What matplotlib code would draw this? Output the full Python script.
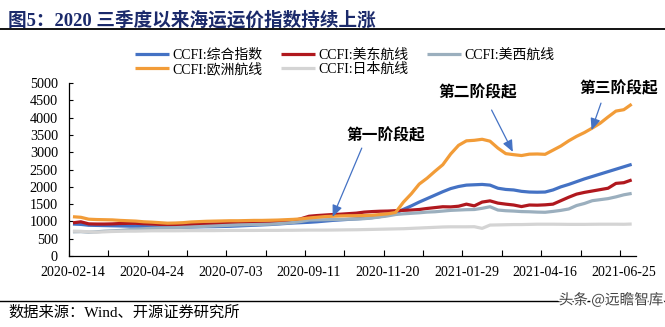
import matplotlib
matplotlib.use('Agg')
import matplotlib.pyplot as plt
import matplotlib.patheffects as pe
import pandas as pd

plt.rcParams['font.family'] = ['Liberation Serif', 'Noto Sans CJK SC']

# weekly CCFI, Spring Festival week (2021-02-12) not published
dates = pd.date_range('2020-02-14', '2021-07-02', freq='7D')
dates = dates[dates != pd.Timestamp('2021-02-12')]

composite = [925, 915, 890, 885, 880, 875, 870, 865, 860, 850,
             845, 840, 830, 830, 835, 840, 845, 848, 850, 855,
             860, 870, 880, 890, 900, 910, 925, 940, 955, 965,
             975, 990, 1010, 1030, 1045, 1060, 1075, 1090, 1110, 1140,
             1180, 1240, 1350, 1450, 1560, 1660, 1760, 1860, 1950, 2010,
             2050, 2060, 2070, 2050, 1960, 1925, 1910, 1870, 1850, 1845,
             1850, 1910, 2000, 2070, 2150, 2230, 2300, 2370, 2440, 2510,
             2580, 2650]
us_east = [960, 990, 930, 925, 925, 930, 940, 945, 945, 935,
           925, 915, 910, 905, 905, 915, 920, 925, 930, 935,
           940, 945, 950, 955, 955, 960, 970, 990, 1020, 1080,
           1150, 1170, 1185, 1200, 1210, 1225, 1240, 1270, 1285, 1295,
           1300, 1310, 1320, 1330, 1345, 1375, 1400, 1425, 1420, 1440,
           1500, 1450, 1560, 1595, 1530, 1500, 1475, 1430, 1475, 1470,
           1480, 1500, 1600, 1700, 1790, 1840, 1880, 1920, 1960, 2100,
           2120, 2200]
us_west = [700, 705, 690, 700, 720, 730, 740, 760, 780, 790,
           800, 810, 815, 820, 830, 840, 850, 860, 870, 880,
           890, 900, 905, 910, 915, 920, 935, 950, 970, 1000,
           1040, 1045, 1050, 1055, 1060, 1065, 1070, 1080, 1100, 1130,
           1160, 1200, 1220, 1235, 1250, 1270, 1280, 1300, 1320, 1330,
           1340, 1345, 1380, 1425, 1330, 1310, 1300, 1285, 1280, 1270,
           1265, 1290, 1320, 1360, 1460, 1520, 1600, 1630, 1660, 1710,
           1770, 1810]
europe = [1136, 1120, 1065, 1055, 1050, 1045, 1030, 1020, 1010, 990,
          980, 965, 950, 955, 965, 985, 995, 1005, 1010, 1015,
          1020, 1020, 1025, 1030, 1030, 1035, 1040, 1050, 1060, 1075,
          1100, 1120, 1140, 1150, 1160, 1165, 1165, 1170, 1180, 1200,
          1220, 1260, 1560, 1800, 2080, 2250, 2450, 2640, 2950, 3200,
          3330, 3345, 3375, 3320, 3120, 2960, 2930, 2905, 2945, 2950,
          2940, 3060, 3180, 3330, 3460, 3570, 3700, 3840, 4020, 4190,
          4230, 4390]
japan = [720, 715, 700, 690, 700, 710, 715, 720, 720, 725,
         730, 730, 730, 730, 732, 735, 735, 735, 735, 738,
         740, 740, 740, 740, 742, 742, 742, 745, 745, 748,
         750, 750, 750, 752, 755, 758, 760, 765, 770, 775,
         780, 785, 790, 800, 810, 820, 830, 840, 845, 845,
         845, 848, 800, 895, 900, 905, 910, 910, 915, 920,
         920, 920, 918, 915, 915, 915, 918, 920, 920, 920,
         918, 925]

series = [('CCFI:综合指数', composite, '#4472C4'),
          ('CCFI:美东航线', us_east, '#B0181E'),
          ('CCFI:美西航线', us_west, '#9BAFBE'),
          ('CCFI:欧洲航线', europe, '#F29C38'),
          ('CCFI:日本航线', japan, '#D4D4D4')]

# stage labels: text (x index, y), arrow tail, arrow head
stage_text = ['第一阶段起', '第二阶段起', '第三阶段起']
stage_pos = [(39.8, 3500), (51.4, 4720), (69.4, 4860)]
arrow_tail = [(36.7, 3120), (53.2, 4220), (67.1, 4420)]
arrow_head = [(33.0, 1130), (55.9, 3010), (65.9, 3640)]

fig = plt.figure(figsize=(6.65, 3.27), dpi=100)
ax = fig.add_axes([0.1038, 0.217, 0.8520, 0.529])

x = list(range(len(dates)))
lines = {}
for name, vals, col in series:
    lines[name], = ax.plot(x, vals, color=col, lw=2.3, solid_capstyle='butt')

ax.set_xlim(-0.5, len(dates) - 0.5)
ax.set_ylim(0, 5000)
ax.set_yticks(range(0, 5001, 500))
ax.set_xticks(x[::10])
ax.set_xticklabels([d.strftime('%Y-%m-%d') for d in dates[::10]])
ax.set_xticks([i - 0.5 for i in range(0, len(dates), 5)], minor=True)
ax.tick_params(axis='x', which='major', length=0, pad=7, labelsize=10)
ax.tick_params(axis='x', which='minor', direction='in', length=4, width=0.8)
ax.tick_params(axis='y', direction='in', length=3, width=0.8, pad=8, labelsize=10.3)
for s in ['top', 'right']:
    ax.spines[s].set_visible(False)
for s in ['left', 'bottom']:
    ax.spines[s].set_linewidth(0.9)

for t, p, a, b in zip(stage_text, stage_pos, arrow_tail, arrow_head):
    ax.text(p[0], p[1], t, ha='center', va='center', fontsize=11.3,
            fontweight='bold', family=['Noto Sans CJK SC'], clip_on=False)
    ax.annotate('', xy=b, xytext=a,
                arrowprops=dict(arrowstyle='-|>,head_length=0.7,head_width=0.3',
                                color='#4472C4', lw=0.9, shrinkA=0, shrinkB=0))

order = ['CCFI:综合指数', 'CCFI:欧洲航线', 'CCFI:美东航线', 'CCFI:日本航线', 'CCFI:美西航线']
fig.legend([lines[n] for n in order], order, ncol=3, frameon=False,
           loc='upper left', bbox_to_anchor=(0.193, 0.872), fontsize=10,
           handlelength=2.45, handletextpad=0.25, columnspacing=1.3,
           labelspacing=0.05, borderpad=0)

fig.text(0.012, 0.937, '图5：2020 三季度以来海运运价指数持续上涨', fontsize=13.4,
         fontweight='bold', color='#1B2A6B', va='center')
fig.add_artist(plt.Line2D([0, 1], [0.911, 0.911], color='black', lw=1.3))
fig.add_artist(plt.Line2D([0, 1], [0.080, 0.080], color='black', lw=1.0))
fig.text(0.012, 0.043, '数据来源：Wind、开源证券研究所', fontsize=11, va='center')
fig.text(0.998, 0.083, '头条 @远瞻智库', fontsize=10.5, ha='right', va='center',
         color='#444444', family=['Noto Sans CJK SC'],
         path_effects=[pe.withStroke(linewidth=2.5, foreground='white')])

fig.savefig('out.png', dpi=100)
